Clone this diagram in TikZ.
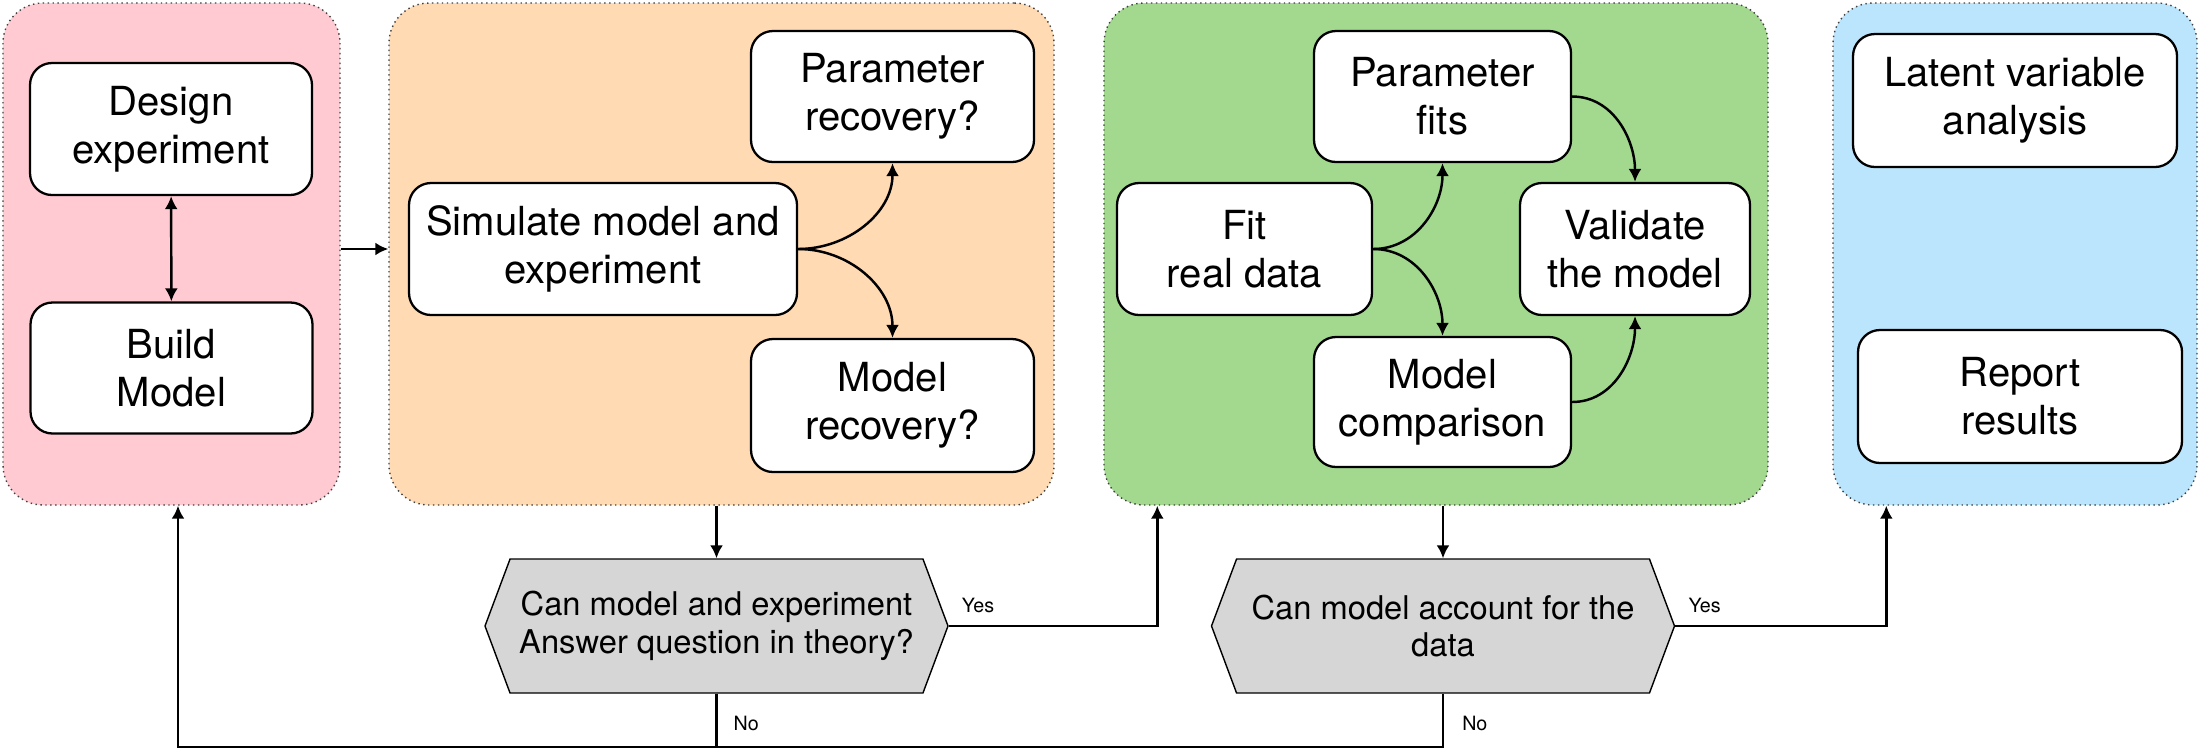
\documentclass[tikz,border=0pt]{standalone}
\usepackage{fontspec}
\setmainfont{TeX Gyre Heros}
\usetikzlibrary{arrows.meta,shapes.symbols}

\definecolor{pinkbg}{RGB}{255,202,210}
\definecolor{orangebg}{RGB}{255,218,178}
\definecolor{greenbg}{RGB}{163,216,143}
\definecolor{bluebg}{RGB}{187,229,252}
\definecolor{querygray}{RGB}{214,214,214}

\newcommand{\panelh}{5.02}
\tikzset{panel/.style={draw=black!75,densely dotted,line width=0.4pt,rounded corners=4mm,minimum height=\panelh cm,inner sep=0pt},
  stage/.style={draw,solid,fill=white,line width=0.65pt,rounded corners=2.2mm,align=center,inner sep=0pt,font=\fontsize{11.4}{13.7}\selectfont},
  query/.style={signal,signal to=west and east,signal pointer angle=139,draw,fill=querygray,line width=0.4pt,align=center,inner sep=0pt,minimum width=4.63cm,minimum height=1.34cm,font=\fontsize{9.3}{10.8}\selectfont},
  answer/.style={inner sep=0pt,font=\fontsize{5.6}{6}\selectfont},
  link/.style={line width=0.7pt}}

\begin{document}
\begin{tikzpicture}[>={Latex[length=1.3mm,width=1.3mm]}]
    \useasboundingbox (0,0) rectangle (22,7.49);
    % draw the four stages
    \node[panel,fill=pinkbg,minimum width=3.37cm] (pink) at (1.715,4.95) {};
    \node[panel,fill=orangebg,minimum width=6.65cm] (orange) at (7.215,4.95) {};
    \node[panel,fill=greenbg,minimum width=6.64cm] (green) at (14.36,4.95) {};
    \node[panel,fill=bluebg,minimum width=3.64cm] (blue) at (20.15,4.95) {};
    % draw the boxes of each stage
    \node[stage,minimum width=2.82cm,minimum height=1.32cm] (design) at (1.71,6.20) {Design\\experiment};
    \node[stage,minimum width=2.82cm,minimum height=1.31cm] (build) at (1.715,3.81) {Build\\Model};
    \node[stage,minimum width=3.88cm,minimum height=1.32cm] (sim) at (6.03,5.00) {Simulate model and\\experiment};
    \node[stage,minimum width=2.83cm,minimum height=1.31cm] (precov) at (8.925,6.525) {Parameter\\recovery?};
    \node[stage,minimum width=2.83cm,minimum height=1.33cm] (mrecov) at (8.925,3.435) {Model\\recovery?};
    \node[stage,minimum width=2.55cm,minimum height=1.32cm] (fit) at (12.445,5.00) {Fit\\real data};
    \node[stage,minimum width=2.57cm,minimum height=1.31cm] (pfits) at (14.425,6.525) {Parameter\\fits};
    \node[stage,minimum width=2.57cm,minimum height=1.30cm] (mcomp) at (14.425,3.47) {Model\\comparison};
    \node[stage,minimum width=2.30cm,minimum height=1.32cm] (valid) at (16.35,5.00) {Validate\\the model};
    \node[stage,minimum width=3.24cm,minimum height=1.33cm] (latent) at (20.15,6.485) {Latent variable\\analysis};
    \node[stage,minimum width=3.24cm,minimum height=1.33cm] (report) at (20.20,3.525) {Report\\results};
    % draw the two questions
    \node[query] (q1) at (7.165,1.23) {Can model and experiment\\Answer question in theory?};
    \node[query] (q2) at (14.43,1.23) {Can model account for the\\data};
    \coordinate (back) at (1.78,0.02);
    % arrows inside the stages
    \draw[link,<->] (design) -- (build);
    \draw[link,->] (sim.east) to[out=0,in=-90] (precov.south);
    \draw[link,->] (sim.east) to[out=0,in=90] (mrecov.north);
    \draw[link,->] (fit.east) to[out=0,in=-90] (pfits.south);
    \draw[link,->] (fit.east) to[out=0,in=90] (mcomp.north);
    \draw[link,->] (pfits.east) to[out=0,in=90] (valid.north);
    \draw[link,->] (mcomp.east) to[out=0,in=-90] (valid.south);
    % arrows between the stages
    \draw[link,->] (pink.east |- sim) -- (orange.west |- sim);
    \draw[link,->] (q1.north |- orange.south) -- (q1.north);
    \draw[link,->] (q2.north |- green.south) -- (q2.north);
    \draw[link,->] (q1.east) node[answer,anchor=south west,xshift=1.2mm,yshift=1.2mm] {Yes} -| ([xshift=5.4mm]green.south west);
    \draw[link,->] (q2.east) node[answer,anchor=south west,xshift=1.2mm,yshift=1.2mm] {Yes} -| ([xshift=5.4mm]blue.south west);
    \draw[link] (q1.south) -- node[answer,pos=0.55,right=1.6mm] {No} (q1.south |- back);
    \draw[link,->] (q2.south) |- node[answer,pos=0.28,right=1.8mm] {No} (back) -- (back |- pink.south);
\end{tikzpicture}
\end{document}
